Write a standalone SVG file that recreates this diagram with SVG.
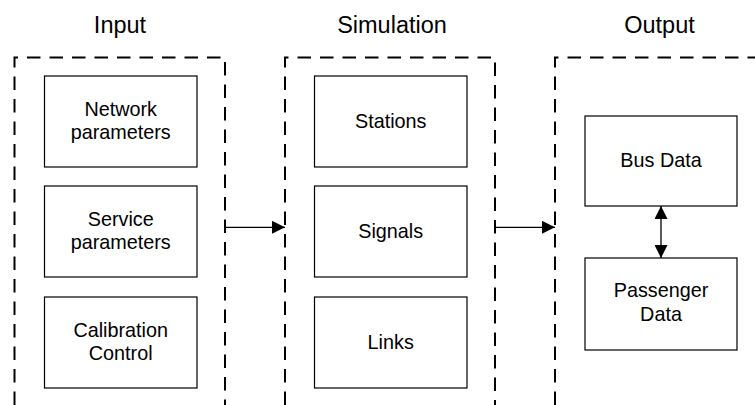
<svg xmlns="http://www.w3.org/2000/svg" width="755" height="405" viewBox="0 0 755 405">
<style>
  .frame { fill: none; stroke: #000; stroke-width: 2; stroke-dasharray: 13.5 9; }
  .box { fill: #fff; stroke: #000; stroke-width: 1.2; }
  .title { font-family: "Liberation Sans", Arial, sans-serif; font-size: 23.5px; text-anchor: middle; fill: #000; }
  .lbl { font-family: "Liberation Sans", Arial, sans-serif; font-size: 19.8px; text-anchor: middle; fill: #000; }
  .conn { stroke: #000; stroke-width: 1.3; fill: none; }
</style>
<defs>
  <marker id="ah" markerWidth="13" markerHeight="13" viewBox="0 0 13 13" refX="13" refY="6.5" orient="auto" markerUnits="userSpaceOnUse">
    <path d="M0,0 L13,6.5 L0,13 Z" fill="#000"/>
  </marker>
  <marker id="ahs" markerWidth="13" markerHeight="13" viewBox="0 0 13 13" refX="13" refY="6.5" orient="auto-start-reverse" markerUnits="userSpaceOnUse">
    <path d="M0,0 L13,6.5 L0,13 Z" fill="#000"/>
  </marker>
</defs>
<rect width="755" height="405" fill="#fff"/>

<g id="input-frame">
  <text class="title" x="120" y="33">Input</text>
  <path class="frame" d="M14.5,405 L14.5,57.5 L225,57.5 L225,405"/>
</g>
<g id="simulation-frame">
  <text class="title" x="392" y="33">Simulation</text>
  <path class="frame" d="M285,405 L285,57.5 L495,57.5 L495,405"/>
</g>
<g id="output-frame">
  <text class="title" x="659.5" y="33">Output</text>
  <path class="frame" d="M555,405 L555,57.5 L755,57.5"/>
</g>

<g id="network-parameters">
  <rect class="box" x="44.5" y="76" width="152.5" height="91"/>
  <text class="lbl" x="120.7" y="115.7">Network</text>
  <text class="lbl" x="120.7" y="138.5">parameters</text>
</g>
<g id="service-parameters">
  <rect class="box" x="44.5" y="186" width="152.5" height="91"/>
  <text class="lbl" x="120.7" y="225.5">Service</text>
  <text class="lbl" x="120.7" y="248.5">parameters</text>
</g>
<g id="calibration-control">
  <rect class="box" x="44.5" y="297" width="152.5" height="91"/>
  <text class="lbl" x="120.7" y="336.5">Calibration</text>
  <text class="lbl" x="120.7" y="359.5">Control</text>
</g>

<g id="stations">
  <rect class="box" x="314.5" y="76" width="152.5" height="91"/>
  <text class="lbl" x="390.7" y="128">Stations</text>
</g>
<g id="signals">
  <rect class="box" x="314.5" y="186" width="152.5" height="91"/>
  <text class="lbl" x="390.7" y="238">Signals</text>
</g>
<g id="links">
  <rect class="box" x="314.5" y="297" width="152.5" height="91"/>
  <text class="lbl" x="390.7" y="349">Links</text>
</g>

<g id="bus-data">
  <rect class="box" x="585" y="116" width="152" height="90"/>
  <text class="lbl" x="661" y="167">Bus Data</text>
</g>
<g id="passenger-data">
  <rect class="box" x="585" y="258" width="152" height="92"/>
  <text class="lbl" x="661" y="297">Passenger</text>
  <text class="lbl" x="661" y="320.5">Data</text>
</g>

<g id="connectors">
  <line class="conn" x1="225" y1="227.3" x2="285" y2="227.3" marker-end="url(#ah)"/>
  <line class="conn" x1="495" y1="227.3" x2="555" y2="227.3" marker-end="url(#ah)"/>
  <line class="conn" x1="661" y1="206" x2="661" y2="258" marker-start="url(#ahs)" marker-end="url(#ahs)"/>
</g>
</svg>
